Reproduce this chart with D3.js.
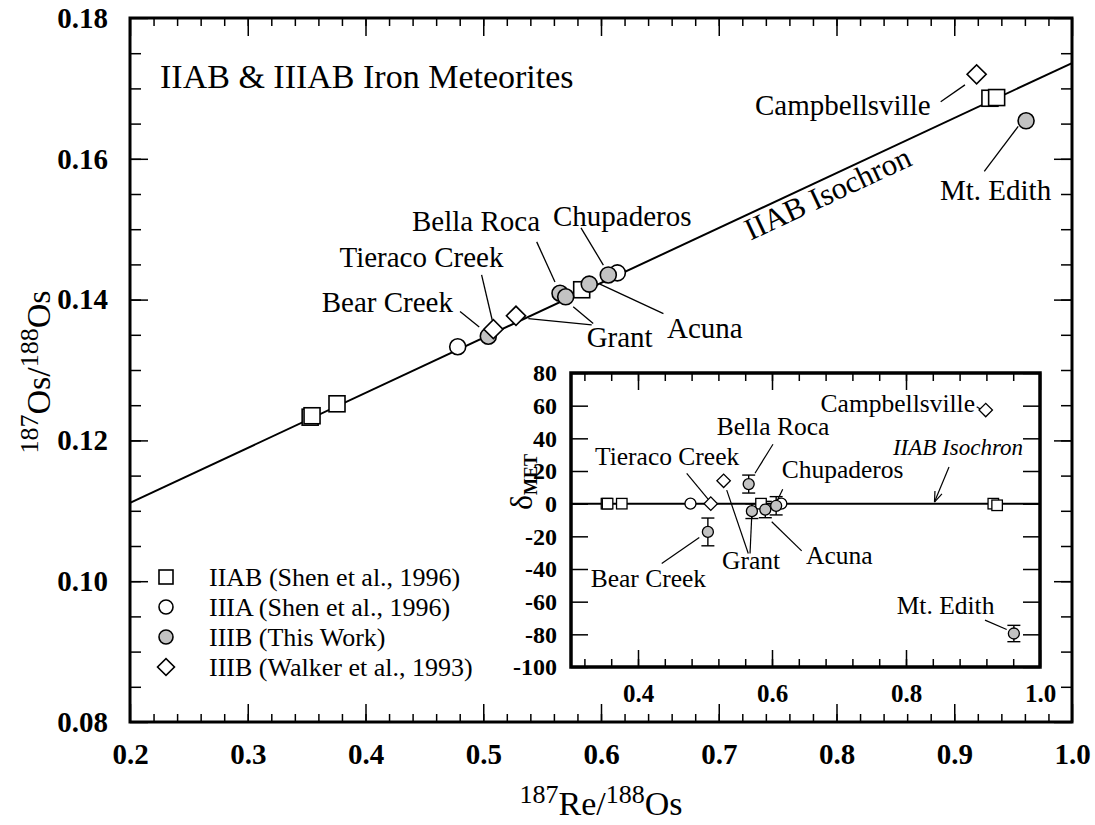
<!DOCTYPE html>
<html>
<head>
<meta charset="utf-8">
<script src="https://cdn.jsdelivr.net/npm/d3@7.9.0/dist/d3.min.js"></script>
<style>
    html, body { margin: 0; padding: 0; background: #fff; }
    svg { display: block; }
</style>
</head>
<body>
<svg id="chart" width="1095" height="825"></svg>
<script>
// ---- data ----
var ISO_INTERCEPT = 0.0955
var ISO_SLOPE = 0.0781

var IIAB_RE = [0.3530, 0.3546, 0.3758, 0.5836, 0.9303, 0.9360]
var IIAB_OS = [0.1233, 0.1235, 0.1252, 0.1414, 0.1686, 0.1687]
var IIAB_DELTA = [0, 0, 0, 0, 0, -1]

var IIIA_RE = [0.4783, 0.6139]
var IIIA_OS = [0.1333, 0.1438]
var IIIA_DELTA = [0, 0]

var IIIB_NAMES = ['Bear Creek', 'Bella Roca', 'Grant', 'Acuna', 'Chupaderos', 'Mt. Edith']
var IIIB_RE = [0.5043, 0.5652, 0.5700, 0.5900, 0.6062, 0.9610]
var IIIB_OS = [0.1348, 0.1409, 0.1404, 0.1422, 0.1435, 0.1654]
var IIIB_DELTA = [-17.3, 12.0, -4.6, -3.6, -1.3, -79.5]
var IIIB_ERR = [8.5, 5.5, 4.5, 5.0, 5.6, 5.0]

var WALKER_NAMES = ['Tieraco Creek', 'Grant', 'Campbellsville']
var WALKER_RE = [0.5086, 0.5278, 0.9190]
var WALKER_OS = [0.1358, 0.1377, 0.1720]
var WALKER_DELTA = [0, 14, 57.3]

var X_TICKS = [0.2, 0.3, 0.4, 0.5, 0.6, 0.7, 0.8, 0.9, 1.0]
var Y_TICKS = [0.08, 0.10, 0.12, 0.14, 0.16, 0.18]
var INSET_X_TICKS = [0.4, 0.6, 0.8, 1.0]
var INSET_Y_TICKS = [-100, -80, -60, -40, -20, 0, 20, 40, 60, 80]

var LEGEND_LABELS = ['IIAB (Shen et al., 1996)', 'IIIA (Shen et al., 1996)', 'IIIB (This Work)', 'IIIB (Walker et al., 1993)']
var LEGEND_KINDS = ['square', 'circle', 'gray', 'diamond']

// annotation text anchors + leader lines, in data units
var MAIN_LABELS = ['Tieraco Creek', 'Bear Creek', 'Bella Roca', 'Chupaderos', 'Grant', 'Acuna', 'Campbellsville', 'Mt. Edith']
var MAIN_LABEL_RE = [0.3779, 0.3628, 0.4395, 0.5592, 0.5878, 0.6560, 0.7308, 0.8879]
var MAIN_LABEL_OS = [0.1447, 0.1383, 0.1498, 0.1504, 0.1333, 0.13455, 0.1662, 0.1542]
var MAIN_LEADERS = [
    [0.4986, 0.1435, 0.5076, 0.1371],
    [0.4803, 0.1383, 0.4966, 0.1361],
    [0.5454, 0.1482, 0.5609, 0.1425],
    [0.5830, 0.1502, 0.6020, 0.1449],
    [0.5383, 0.1373, 0.5921, 0.1364],
    [0.5764, 0.1390, 0.5934, 0.1366],
    [0.5991, 0.1422, 0.6530, 0.1380],
    [0.8885, 0.1681, 0.9091, 0.1705],
    [0.9255, 0.1582, 0.9543, 0.1646]
]

var INSET_LABELS = ['Campbellsville', 'Bella Roca', 'Tieraco Creek', 'Chupaderos', 'Bear Creek', 'Grant', 'Acuna', 'Mt. Edith']
var INSET_LABEL_RE = [0.903, 0.5175, 0.3358, 0.6145, 0.3294, 0.5254, 0.6507, 0.7861]
var INSET_LABEL_DELTA = [56.1, 42.0, 23.7, 15.7, -50.9, -40.0, -37.0, -67.6]
var INSET_LEADERS = [
    [0.9055, 59.3, 0.9154, 56.8],
    [0.6015, 36.4, 0.5746, 18.6],
    [0.4727, 18.6, 0.5049, 2.6],
    [0.6160, 8.8, 0.6070, 1.2],
    [0.4354, -36.6, 0.4915, -20.7],
    [0.5646, -30.5, 0.5324, 8.3],
    [0.5672, -30.5, 0.5697, -8.1],
    [0.6443, -28.9, 0.5996, -11.1],
    [0.9179, -71.3, 0.9503, -77.0]
]

;(function () {
    var SERIF = '"Liberation Serif", "Times New Roman", Times, serif'
    var GRAY = '#c2c2c2'

    var svg = d3.select('#chart').attr('font-family', SERIF)
    svg.append('rect').attr('width', 1095).attr('height', 825).attr('fill', '#fff')

    var x = d3.scaleLinear().domain([0.2, 1.0]).range([130, 1072])
    var y = d3.scaleLinear().domain([0.08, 0.18]).range([722, 18])
    var ix = d3.scaleLinear().domain([0.3, 1.0]).range([571, 1040])
    var iy = d3.scaleLinear().domain([-100, 80]).range([667, 373])

    function iso(re) { return ISO_INTERCEPT + ISO_SLOPE * re }

    function styleAxis(g, size, bold) {
        g.select('.domain').remove()
        g.attr('font-family', SERIF).attr('font-size', size)
        g.selectAll('line').attr('stroke', '#000').attr('stroke-width', 1.5)
        g.selectAll('text').attr('fill', '#000').attr('font-weight', bold ? 'bold' : 'normal')
    }

    // symbol drawing
    function drawSym(g, kind, cx, cy, s) {
        if (kind === 'square') {
            g.append('rect').attr('x', cx - s.sq / 2).attr('y', cy - s.sq / 2)
                .attr('width', s.sq).attr('height', s.sq)
                .attr('fill', '#fff').attr('stroke', '#000').attr('stroke-width', s.sw)
        } else if (kind === 'circle' || kind === 'gray') {
            g.append('circle').attr('cx', cx).attr('cy', cy).attr('r', s.r)
                .attr('fill', kind === 'gray' ? GRAY : '#fff')
                .attr('stroke', '#000').attr('stroke-width', s.sw)
        } else {
            g.append('rect').attr('x', -s.dm / 2).attr('y', -s.dm / 2)
                .attr('width', s.dm).attr('height', s.dm)
                .attr('transform', 'translate(' + cx + ',' + cy + ') rotate(45)')
                .attr('fill', '#fff').attr('stroke', '#000').attr('stroke-width', s.sw)
        }
    }

    var MAIN_SYM = { sq: 16, r: 8, dm: 13.5, sw: 1.6 }
    var INSET_SYM = { sq: 10.5, r: 5.5, dm: 9.5, sw: 1.3 }
    var LEG_SYM = { sq: 14, r: 7, dm: 12, sw: 1.6 }

    // ---- main axes ----
    var axes = svg.append('g')
    axes.append('g').attr('transform', 'translate(0,722)')
        .call(d3.axisBottom(x).tickValues(d3.range(0.22, 1.0, 0.02)).tickSize(-8).tickFormat(''))
        .call(styleAxis, 28, true)
    axes.append('g').attr('transform', 'translate(0,722)')
        .call(d3.axisBottom(x).tickValues(X_TICKS).tickSize(-18).tickPadding(21).tickFormat(d3.format('.1f')))
        .call(styleAxis, 29, true)
    axes.append('g').attr('transform', 'translate(0,18)')
        .call(d3.axisTop(x).tickValues(d3.range(0.22, 1.0, 0.02)).tickSize(-8).tickFormat(''))
        .call(styleAxis, 28, true)
    axes.append('g').attr('transform', 'translate(0,18)')
        .call(d3.axisTop(x).tickValues(X_TICKS).tickSize(-18).tickFormat(''))
        .call(styleAxis, 28, true)
    axes.append('g').attr('transform', 'translate(130,0)')
        .call(d3.axisLeft(y).tickValues(d3.range(0.085, 0.18, 0.005)).tickSize(-11).tickFormat(''))
        .call(styleAxis, 28, true)
    axes.append('g').attr('transform', 'translate(130,0)')
        .call(d3.axisLeft(y).tickValues(Y_TICKS).tickSize(-18).tickPadding(22).tickFormat(d3.format('.2f')))
        .call(styleAxis, 29, true)
    axes.append('g').attr('transform', 'translate(1072,0)')
        .call(d3.axisRight(y).tickValues(d3.range(0.085, 0.18, 0.005)).tickSize(-11).tickFormat(''))
        .call(styleAxis, 28, true)
    axes.append('g').attr('transform', 'translate(1072,0)')
        .call(d3.axisRight(y).tickValues(Y_TICKS).tickSize(-18).tickFormat(''))
        .call(styleAxis, 28, true)

    svg.append('rect').attr('x', 130).attr('y', 18).attr('width', 942).attr('height', 704)
        .attr('fill', 'none').attr('stroke', '#000').attr('stroke-width', 3)

    // axis titles
    var xt = svg.append('text').attr('x', (x.range()[0] + x.range()[1]) / 2).attr('y', 815)
        .attr('text-anchor', 'middle').attr('font-size', 34)
    xt.append('tspan').attr('font-size', 26).attr('dy', -12).text('187')
    xt.append('tspan').attr('dy', 12).text('Re/')
    xt.append('tspan').attr('font-size', 26).attr('dy', -12).text('188')
    xt.append('tspan').attr('dy', 12).text('Os')

    var yt = svg.append('text').attr('transform', 'translate(50,372) rotate(-90)')
        .attr('text-anchor', 'middle').attr('font-size', 34)
    yt.append('tspan').attr('font-size', 26).attr('dy', -12).text('187')
    yt.append('tspan').attr('dy', 12).text('Os/')
    yt.append('tspan').attr('font-size', 26).attr('dy', -12).text('188')
    yt.append('tspan').attr('dy', 12).text('Os')

    // title
    svg.append('text').attr('x', x(0.2255)).attr('y', y(0.1701))
        .attr('font-size', 34).text('IIAB & IIIAB Iron Meteorites')

    // ---- isochron ----
    var line = d3.line().x(function (d) { return x(d) }).y(function (d) { return y(iso(d)) })
    svg.append('path').datum([0.2, 1.0]).attr('d', line)
        .attr('fill', 'none').attr('stroke', '#000').attr('stroke-width', 2)

    var ang = Math.atan2(y(iso(1.0)) - y(iso(0.2)), x(1.0) - x(0.2)) * 180 / Math.PI
    svg.append('text')
        .attr('transform', 'translate(' + x(0.718) + ',' + y(iso(0.718)) + ') rotate(' + ang + ')')
        .attr('x', 0).attr('y', 25).attr('font-size', 31).text('IIAB Isochron')

    // leaders + labels (main)
    var ann = svg.append('g').attr('stroke', '#000').attr('stroke-width', 1.3)
    MAIN_LEADERS.forEach(function (L) {
        ann.append('line').attr('x1', x(L[0])).attr('y1', y(L[1])).attr('x2', x(L[2])).attr('y2', y(L[3]))
    })
    MAIN_LABELS.forEach(function (t, i) {
        svg.append('text').attr('x', x(MAIN_LABEL_RE[i])).attr('y', y(MAIN_LABEL_OS[i]))
            .attr('font-size', 29).text(t)
    })

    // main points
    var pts = svg.append('g')
    IIAB_RE.forEach(function (v, i) { drawSym(pts, 'square', x(v), y(IIAB_OS[i]), MAIN_SYM) })
    IIIA_RE.forEach(function (v, i) { drawSym(pts, 'circle', x(v), y(IIIA_OS[i]), MAIN_SYM) })
    IIIB_RE.forEach(function (v, i) { drawSym(pts, 'gray', x(v), y(IIIB_OS[i]), MAIN_SYM) })
    WALKER_RE.forEach(function (v, i) { drawSym(pts, 'diamond', x(v), y(WALKER_OS[i]), MAIN_SYM) })

    // legend
    var leg = svg.append('g')
    LEGEND_LABELS.forEach(function (t, i) {
        var cy = 577 + i * 30
        drawSym(leg, LEGEND_KINDS[i], 166, cy, LEG_SYM)
        leg.append('text').attr('x', 209).attr('y', cy).attr('dy', '0.33em')
            .attr('font-size', 26).text(t)
    })

    // ---- inset ----
    var ins = svg.append('g')
    ins.append('rect').attr('x', 571).attr('y', 373).attr('width', 469).attr('height', 294).attr('fill', '#fff')

    ins.append('g').attr('transform', 'translate(0,667)')
        .call(d3.axisBottom(ix).tickValues(d3.range(0.32, 1.0, 0.04)).tickSize(-8).tickFormat(''))
        .call(styleAxis, 25, true)
    ins.append('g').attr('transform', 'translate(0,667)')
        .call(d3.axisBottom(ix).tickValues(INSET_X_TICKS).tickSize(-17).tickPadding(17).tickFormat(d3.format('.1f')))
        .call(styleAxis, 25, true)
    ins.append('g').attr('transform', 'translate(0,373)')
        .call(d3.axisTop(ix).tickValues(d3.range(0.32, 1.0, 0.04)).tickSize(-8).tickFormat(''))
        .call(styleAxis, 25, true)
    ins.append('g').attr('transform', 'translate(0,373)')
        .call(d3.axisTop(ix).tickValues(INSET_X_TICKS).tickSize(-17).tickFormat(''))
        .call(styleAxis, 25, true)
    ins.append('g').attr('transform', 'translate(571,0)')
        .call(d3.axisLeft(iy).tickValues(INSET_Y_TICKS).tickSize(-17).tickPadding(14).tickFormat(function (d) { return String(d) }))
        .call(styleAxis, 24, true)
    ins.append('g').attr('transform', 'translate(1040,0)')
        .call(d3.axisRight(iy).tickValues(INSET_Y_TICKS).tickSize(-17).tickFormat(''))
        .call(styleAxis, 25, true)

    ins.append('line').attr('x1', ix(0.3)).attr('x2', ix(1.0)).attr('y1', iy(0)).attr('y2', iy(0))
        .attr('stroke', '#000').attr('stroke-width', 2)

    var ia = ins.append('g').attr('stroke', '#000').attr('stroke-width', 1.2)
    INSET_LEADERS.forEach(function (L) {
        ia.append('line').attr('x1', ix(L[0])).attr('y1', iy(L[1])).attr('x2', ix(L[2])).attr('y2', iy(L[3]))
    })
    INSET_LABELS.forEach(function (t, i) {
        ins.append('text').attr('x', ix(INSET_LABEL_RE[i])).attr('y', iy(INSET_LABEL_DELTA[i]))
            .attr('text-anchor', i === 0 ? 'end' : 'start')
            .attr('font-size', 25.5).text(t)
    })

    // italic isochron label with arrow
    ins.append('text').attr('x', ix(0.8776)).attr('y', iy(29.8)).attr('text-anchor', 'middle')
        .attr('font-size', 23).attr('font-style', 'italic').text('IIAB Isochron')
    var ax0 = ix(0.8642), ay0 = iy(22.4), ax1 = ix(0.8425), ay1 = iy(1.0)
    ia.append('line').attr('x1', ax0).attr('y1', ay0).attr('x2', ax1).attr('y2', ay1)
    var a = Math.atan2(ay0 - ay1, ax0 - ax1)
    ;[-0.35, 0.35].forEach(function (da) {
        ia.append('line').attr('x1', ax1).attr('y1', ay1)
            .attr('x2', ax1 + 11 * Math.cos(a + da)).attr('y2', ay1 + 11 * Math.sin(a + da))
    })

    // error bars
    var eb = ins.append('g').attr('stroke', '#000').attr('stroke-width', 1.4)
    IIIB_RE.forEach(function (v, i) {
        var cx = ix(v)
        var lo = iy(IIIB_DELTA[i] - IIIB_ERR[i]), hi = iy(IIIB_DELTA[i] + IIIB_ERR[i])
        eb.append('line').attr('x1', cx).attr('x2', cx).attr('y1', lo).attr('y2', hi)
        eb.append('line').attr('x1', cx - 6.5).attr('x2', cx + 6.5).attr('y1', lo).attr('y2', lo)
        eb.append('line').attr('x1', cx - 6.5).attr('x2', cx + 6.5).attr('y1', hi).attr('y2', hi)
    })

    var ip = ins.append('g')
    IIAB_RE.forEach(function (v, i) { drawSym(ip, 'square', ix(v), iy(IIAB_DELTA[i]), INSET_SYM) })
    IIIA_RE.forEach(function (v, i) { drawSym(ip, 'circle', ix(v), iy(IIIA_DELTA[i]), INSET_SYM) })
    IIIB_RE.forEach(function (v, i) { drawSym(ip, 'gray', ix(v), iy(IIIB_DELTA[i]), INSET_SYM) })
    WALKER_RE.forEach(function (v, i) { drawSym(ip, 'diamond', ix(v), iy(WALKER_DELTA[i]), INSET_SYM) })

    ins.append('rect').attr('x', 571).attr('y', 373).attr('width', 469).attr('height', 294)
        .attr('fill', 'none').attr('stroke', '#000').attr('stroke-width', 3.5)

    // delta label
    var dl = svg.append('text').attr('transform', 'translate(532,482) rotate(-90)')
        .attr('text-anchor', 'middle').attr('font-size', 32)
    dl.append('tspan').text('δ')
    dl.append('tspan').attr('font-size', 18).attr('font-weight', 'bold').attr('dy', 5).text('MET')
})()
</script>
</body>
</html>
